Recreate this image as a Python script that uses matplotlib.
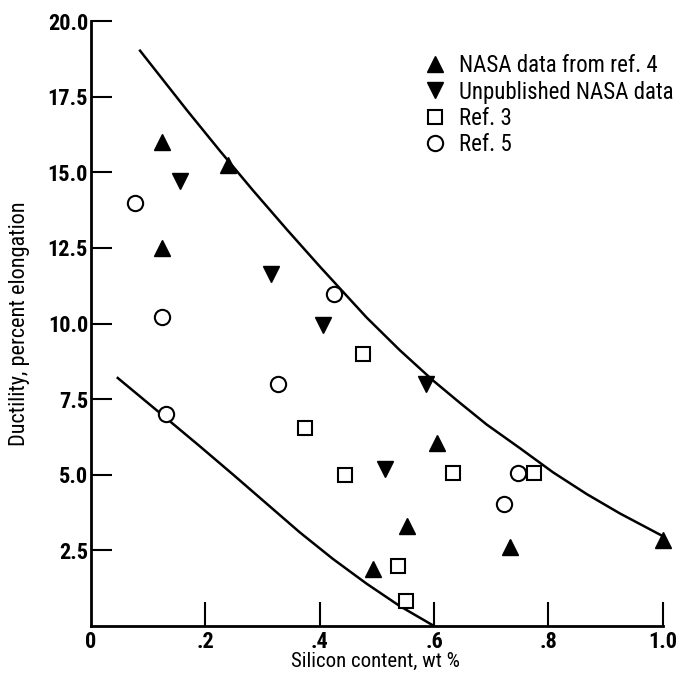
import matplotlib
matplotlib.use('Agg')
import matplotlib.pyplot as plt

# NASA data from ref. 4 (filled up triangles)
nasa_ref4_x = [0.124, 0.240, 0.124, 0.605, 0.552, 0.493, 0.733, 1.000]
nasa_ref4_y = [16.0, 15.25, 12.5, 6.05, 3.3, 1.9, 2.6, 2.85]

# Unpublished NASA data (filled down triangles)
unpub_x = [0.156, 0.315, 0.405, 0.586, 0.514]
unpub_y = [14.7, 11.65, 9.95, 8.0, 5.2]

# Ref. 3 (open squares)
ref3_x = [0.476, 0.375, 0.444, 0.633, 0.775, 0.537, 0.551]
ref3_y = [9.0, 6.55, 5.0, 5.05, 5.05, 2.0, 0.82]

# Ref. 5 (open circles)
ref5_x = [0.077, 0.124, 0.131, 0.327, 0.425, 0.746, 0.722]
ref5_y = [14.0, 10.2, 7.0, 8.0, 10.97, 5.05, 4.05]

# upper and lower bounding curves
upper_x = [0.086, 0.168, 0.226, 0.283, 0.343, 0.400, 0.482, 0.540, 0.598,
           0.645, 0.692, 0.750, 0.808, 0.867, 0.925, 1.000]
upper_y = [19.02, 17.05, 15.70, 14.41, 13.10, 11.89, 10.20, 9.12, 8.12,
           7.38, 6.66, 5.88, 5.08, 4.36, 3.72, 2.97]
lower_x = [0.047, 0.133, 0.190, 0.249, 0.307, 0.365, 0.423, 0.482, 0.540, 0.600]
lower_y = [8.2, 6.85, 5.95, 5.0, 4.05, 3.1, 2.22, 1.4, 0.66, 0.0]

xticks = [0, 0.2, 0.4, 0.6, 0.8, 1.0]
xtick_labels = ['0', '.2', '.4', '.6', '.8', '1.0']
yticks = [2.5, 5.0, 7.5, 10.0, 12.5, 15.0, 17.5, 20.0]
ytick_labels = ['2.5', '5.0', '7.5', '10.0', '12.5', '15.0', '17.5', '20.0']

plt.rcParams['font.family'] = ['Roboto Condensed', 'DejaVu Sans']

fig = plt.figure(figsize=(6.78, 6.74), dpi=100)
ax = fig.add_axes([0.134, 0.0712, 0.8437, 0.8976])

ax.plot(upper_x, upper_y, color='black', lw=1.8, solid_joinstyle='round')
ax.plot(lower_x, lower_y, color='black', lw=1.8, solid_joinstyle='round')

ms = 11
ax.plot(nasa_ref4_x, nasa_ref4_y, '^', color='black', ms=ms, clip_on=False,
        label='NASA data from ref. 4', zorder=3)
ax.plot(unpub_x, unpub_y, 'v', color='black', ms=ms, clip_on=False,
        label='Unpublished NASA data', zorder=3)
ax.plot(ref3_x, ref3_y, 's', mfc='white', mec='black', mew=1.5, ms=10.5,
        clip_on=False, label='Ref. 3', zorder=3)
ax.plot(ref5_x, ref5_y, 'o', mfc='white', mec='black', mew=1.5, ms=11,
        clip_on=False, label='Ref. 5', zorder=3)

ax.set_xlim(0, 1.0)
ax.set_ylim(0, 20)
ax.spines['top'].set_visible(False)
ax.spines['right'].set_visible(False)
ax.spines['left'].set_linewidth(2)
ax.spines['bottom'].set_linewidth(2)

ax.set_xticks(xticks)
ax.set_xticklabels(xtick_labels)
ax.set_yticks(yticks)
ax.set_yticklabels(ytick_labels)
ax.tick_params(axis='x', direction='in', length=17, width=1.5, pad=3.5,
               labelsize=16)
ax.tick_params(axis='y', direction='in', length=15, width=1.5, pad=2,
               labelsize=16)
ax.xaxis.get_major_ticks()[0].tick1line.set_visible(False)
for lab in ax.get_xticklabels() + ax.get_yticklabels():
    lab.set_fontweight('bold')

ax.set_xlabel('Silicon content, wt %', fontsize=15)
ax.set_ylabel('Ductility, percent elongation', fontsize=16)
ax.xaxis.set_label_coords(0.497, -0.043)
ax.yaxis.set_label_coords(-0.107, 0.5)

leg = ax.legend(loc='upper left', bbox_to_anchor=(0.581, 0.945),
                frameon=False, fontsize=16.5, handlelength=1.0,
                handletextpad=0.55, labelspacing=0.14, borderpad=0,
                borderaxespad=0)

fig.savefig('out.png', dpi=100)
